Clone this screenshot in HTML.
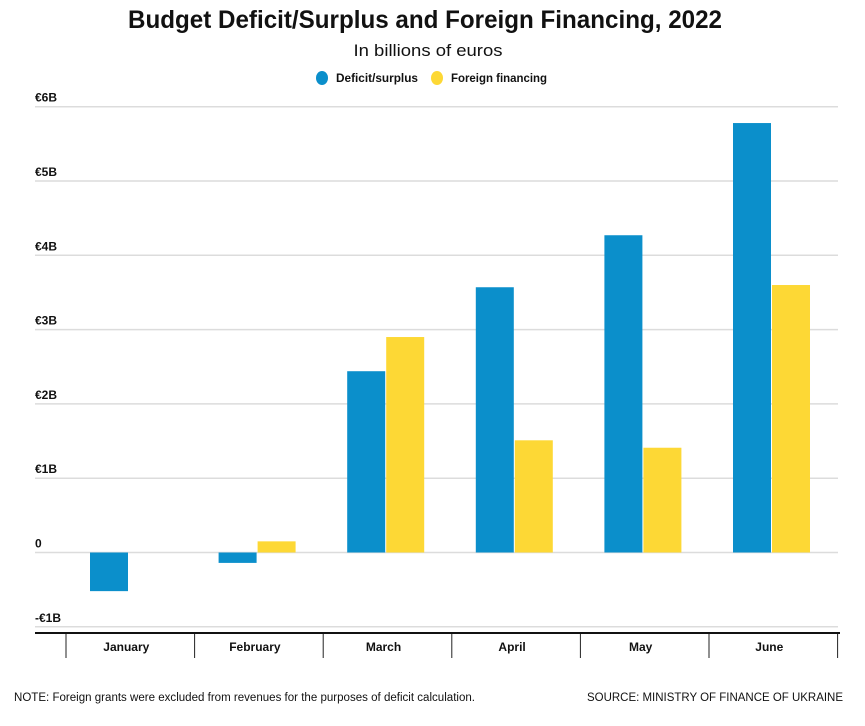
<!DOCTYPE html>
<html><head><meta charset="utf-8"><style>
body{margin:0;background:#fff;width:865px;height:721px;overflow:hidden}
svg text{font-family:"Liberation Sans Narrow","Liberation Sans",sans-serif}
</style></head><body>
<svg id="chart" width="865" height="721" xmlns="http://www.w3.org/2000/svg">
<text x="425" y="28" text-anchor="middle" font-size="25" font-weight="bold" fill="#111" textLength="594" lengthAdjust="spacingAndGlyphs">Budget Deficit/Surplus and Foreign Financing, 2022</text>
<text x="428" y="56" text-anchor="middle" font-size="17" fill="#111" textLength="149" lengthAdjust="spacingAndGlyphs">In billions of euros</text>
<g>
<ellipse cx="322" cy="78" rx="6" ry="7" fill="#0b8fcb"/>
<text x="336" y="82" font-size="12" font-weight="bold" fill="#111" textLength="82" lengthAdjust="spacingAndGlyphs">Deficit/surplus</text>
<ellipse cx="437" cy="78" rx="6" ry="7" fill="#fdd835"/>
<text x="451" y="82" font-size="12" font-weight="bold" fill="#111" textLength="96" lengthAdjust="spacingAndGlyphs">Foreign financing</text>
</g>
<g id="grid"></g><g id="bars"></g><g id="axis"></g>
<text x="14" y="701" font-size="11.5" fill="#111" textLength="461" lengthAdjust="spacingAndGlyphs">NOTE: Foreign grants were excluded from revenues for the purposes of deficit calculation.</text>
<text x="587" y="701" font-size="12" fill="#111" textLength="256" lengthAdjust="spacingAndGlyphs">SOURCE: MINISTRY OF FINANCE OF UKRAINE</text>
</svg>
<script>
const categories=["January","February","March","April","May","June"];
const deficit=[-0.52,-0.14,2.44,3.57,4.27,5.78];
const foreign=[null,0.15,2.9,1.51,1.41,3.6];
const tickValues=[-1,0,1,2,3,4,5,6];
const tickLabels=["-€1B","0","€1B","€2B","€3B","€4B","€5B","€6B"];
const NS="http://www.w3.org/2000/svg";
const y0=552.5, pxPer=74.3;
function y(v){return y0-v*pxPer;}
const xStart=66, catW=128.6;
function x(i){return xStart+i*catW;}
function mk(tag,attrs,parent){const e=document.createElementNS(NS,tag);for(const k in attrs)e.setAttribute(k,attrs[k]);parent.appendChild(e);return e;}
const grid=document.getElementById('grid'),bars=document.getElementById('bars'),axis=document.getElementById('axis');
tickValues.forEach((v,i)=>{
 const l=mk('line',{x1:35,x2:838,y1:y(v),y2:y(v),stroke:'#dcdcdc','stroke-width':1.5},grid);
 
 
 const t=mk('text',{x:35,y:y(v)-5,'font-size':12,'font-weight':'bold',fill:'#111'},grid);
 t.textContent=tickLabels[i];
 
 
});
const bw=38;
categories.forEach((c,i)=>{
 const bx=x(i)+24;
 if(deficit[i]!=null){const v=deficit[i];
  const r=mk('rect',{x:bx,y:Math.min(y(v),y0),width:bw,height:Math.abs(y(v)-y0),fill:'#0b8fcb'},bars);
  
  }
 if(foreign[i]!=null){const v=foreign[i];
  const r=mk('rect',{x:bx+bw+1,y:Math.min(y(v),y0),width:bw,height:Math.abs(y(v)-y0),fill:'#fdd835'},bars);
  
  }
 const t=mk('text',{x:x(i)+catW/2-4,y:651,'text-anchor':'middle','font-size':12,'font-weight':'bold',fill:'#111'},axis);
 t.textContent=c;
 
 
});
for(let i=0;i<=categories.length;i++){
 const tk=mk('line',{x1:x(i),x2:x(i),y1:633,y2:658,stroke:'#222','stroke-width':1},axis);
 
 
}
const ax=mk('line',{x1:35,x2:840,y1:633,y2:633,stroke:'#111','stroke-width':2},axis);


</script>
</body></html>
